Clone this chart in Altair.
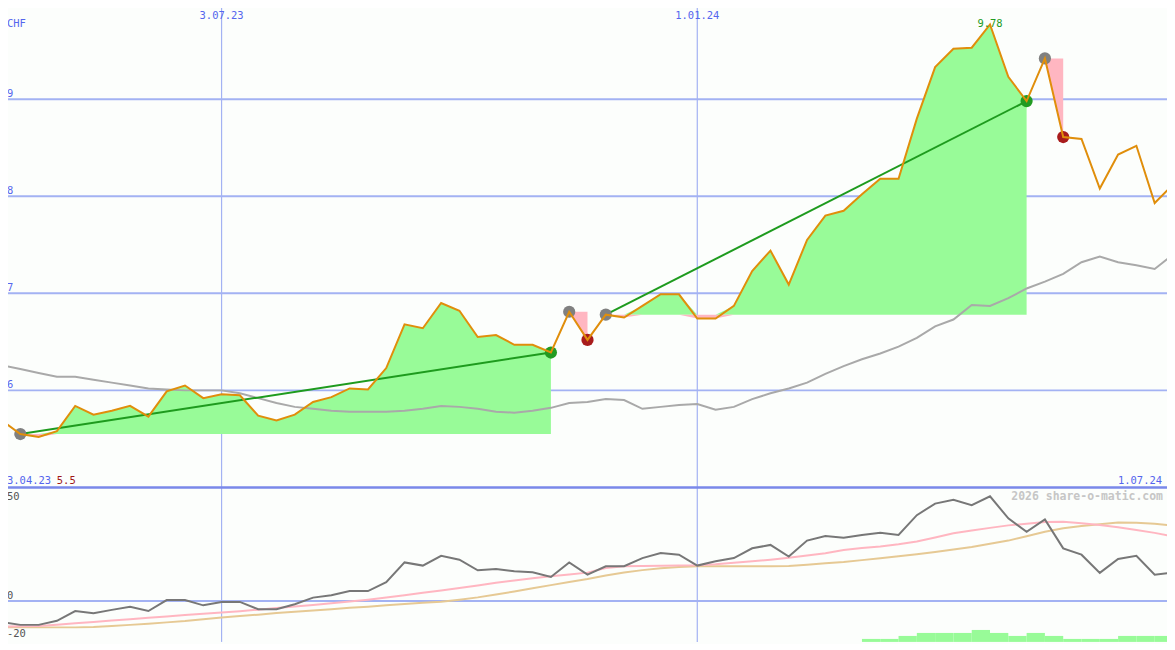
import altair as alt
import pandas as pd

# ---------------- data ----------------
weeks = pd.date_range("2023-04-10", periods=65, freq="7D")
dates = [d.strftime("%Y-%m-%d") for d in weeks]

price = [5.69, 5.55, 5.52, 5.58, 5.84, 5.75, 5.79, 5.84, 5.73, 5.99,
         6.05, 5.92, 5.96, 5.95, 5.74, 5.69, 5.75, 5.88, 5.93, 6.02,
         6.01, 6.23, 6.68, 6.64, 6.90, 6.82, 6.55, 6.57, 6.47, 6.47,
         6.39, 6.81, 6.52, 6.78, 6.75, 6.87, 6.99, 6.99, 6.74, 6.74,
         6.87, 7.23, 7.44, 7.09, 7.55, 7.80, 7.85, 8.02, 8.18, 8.18,
         8.80, 9.33, 9.52, 9.53, 9.77, 9.23, 8.98, 9.42, 8.61, 8.59,
         8.08, 8.43, 8.52, 7.93, 8.12]

ma = [6.26, 6.22, 6.18, 6.14, 6.14, 6.11, 6.08, 6.05, 6.02, 6.01,
      6.00, 6.00, 6.00, 5.97, 5.92, 5.87, 5.83, 5.81, 5.79, 5.78,
      5.78, 5.78, 5.79, 5.81, 5.84, 5.83, 5.81, 5.78, 5.77, 5.79,
      5.82, 5.87, 5.88, 5.91, 5.90, 5.81, 5.83, 5.85, 5.86, 5.80,
      5.83, 5.91, 5.97, 6.02, 6.08, 6.17, 6.25, 6.32, 6.38, 6.45,
      6.54, 6.66, 6.73, 6.88, 6.87, 6.95, 7.05, 7.12, 7.20, 7.32,
      7.38, 7.32, 7.29, 7.25, 7.40]

osc = [-9.2, -10.5, -10.5, -8.7, -4.4, -5.4, -3.9, -2.5, -4.4, 0.4,
       0.4, -1.9, -0.4, -0.4, -3.6, -3.6, -1.4, 1.5, 2.5, 4.4,
       4.4, 8.3, 17.0, 15.6, 19.9, 18.2, 13.5, 14.1, 13.1, 12.7,
       10.6, 17.0, 11.6, 15.3, 15.3, 18.9, 21.1, 20.4, 15.6, 17.5,
       18.9, 23.2, 24.7, 19.6, 26.6, 28.6, 27.9, 29.1, 30.1, 29.1,
       37.8, 42.9, 44.6, 42.2, 46.1, 36.4, 30.5, 35.9, 23.2, 20.4,
       12.4, 18.5, 19.9, 11.6, 12.6]

sig_pink = [-11.2, -11.1, -11.0, -10.4, -9.8, -9.2, -8.6, -8.0, -7.4, -6.8,
            -6.2, -5.6, -5.1, -4.5, -3.8, -3.1, -2.4, -1.7, -1.0, -0.2,
            0.6, 1.5, 2.5, 3.6, 4.6, 5.7, 6.8, 8.0, 9.0, 10.0,
            10.9, 11.7, 12.5, 14.5, 15.3, 15.4, 15.5, 15.6, 15.8, 16.2,
            16.8, 17.5, 18.2, 19.0, 20.0, 21.0, 22.5, 23.3, 24.0, 25.0,
            26.2, 28.0, 29.8, 31.0, 32.2, 33.3, 34.0, 34.8, 34.9, 34.2,
            33.5, 32.5, 31.3, 30.0, 28.4]

sig_tan = [-11.6, -11.6, -11.6, -11.6, -11.6, -11.4, -11.0, -10.5, -10.0, -9.4,
           -8.8, -8.0, -7.3, -6.6, -6.0, -5.3, -4.7, -4.2, -3.6, -3.0,
           -2.5, -1.9, -1.3, -0.8, -0.3, 0.6, 1.6, 2.9, 4.2, 5.6,
           7.0, 8.4, 9.7, 11.2, 12.6, 13.6, 14.4, 15.0, 15.3, 15.3,
           15.3, 15.3, 15.3, 15.4, 16.0, 16.6, 17.2, 18.0, 18.8, 19.7,
           20.6, 21.6, 22.7, 23.8, 25.2, 26.6, 28.5, 30.5, 32.0, 33.0,
           33.8, 34.6, 34.5, 34.0, 33.2]

vol_start = [47, 48, 49, 50, 51, 52, 53, 54, 55, 56, 57, 58, 59, 60, 61, 62, 63]
vol = [1, 1, 2, 3, 3, 3, 4, 3, 2, 3, 2, 1, 1, 1, 2, 2, 2]

buy_idx = [1, 31, 33, 57]
sell_idx = [30, 32, 56, 58]

price_ticks = [6, 7, 8, 9]
osc_ticks = [0]
osc_labels = [50, 0, -20]
date_ticks = ["2023-07-03", "2024-01-01"]
date_labels = ["3.07.23", "1.01.24"]
start_label = "3.04.23"
end_label = "1.07.24"
min_label = "5.5"
max_label = "9.78"
currency = "CHF"
watermark = "2026 share-o-matic.com"

# ---------------- styling ----------------
W, HT, HB = 1175, 487, 155
FONT = "DejaVu Sans Mono"
FS = 10.5
BLUE_TXT = "#5566ee"
GRID = "#a3b2f3"
SEP = "#7a88ea"

xs = alt.Scale(type="utc", domain=[alt.DateTime(year=2023, month=4, date=10, utc=True),
                                    alt.DateTime(year=2024, month=7, date=1, utc=True)])
ys_top = alt.Scale(domain=[5, 10])
ys_bot = alt.Scale(domain=[-18.0, 50])

def X(f):
    return alt.X(f"{f}:T", scale=xs, axis=None)

def YT(f):
    return alt.Y(f"{f}:Q", scale=ys_top, axis=None)

def YB(f):
    return alt.Y(f"{f}:Q", scale=ys_bot, axis=None)

df = pd.DataFrame({"date": dates, "price": price, "ma": ma, "osc": osc,
                   "pink": sig_pink, "tan": sig_tan})

rows = []
for k, (b, s) in enumerate(zip(buy_idx, sell_idx)):
    base = price[b]
    for i in range(b, s + 1):
        p = price[i]
        rows.append({"date": dates[i], "trade": k, "base": base,
                     "up": max(p, base), "dn": min(p, base)})
fill = pd.DataFrame(rows)

tl_rows, dot_rows = [], []
for k, (b, s) in enumerate(zip(buy_idx, sell_idx)):
    win = price[s] > price[b]
    dot_rows.append({"date": dates[b], "p": price[b], "kind": "buy"})
    dot_rows.append({"date": dates[s], "p": price[s], "kind": "win" if win else "loss"})
    if win:
        tl_rows.append({"date": dates[b], "p": price[b], "trade": k})
        tl_rows.append({"date": dates[s], "p": price[s], "trade": k})
tlines = pd.DataFrame(tl_rows)
dots = pd.DataFrame(dot_rows)

# ---------------- top panel ----------------
hgrid = alt.Chart(pd.DataFrame({"v": price_ticks})).mark_rule(
    color=GRID, strokeWidth=2).encode(y=YT("v"))
vgrid = alt.Chart(pd.DataFrame({"d": date_ticks})).mark_rule(
    color=GRID, strokeWidth=1.2).encode(x=X("d"))

ma_line = alt.Chart(df).mark_line(color="#a9a9a9", strokeWidth=2, clip=True).encode(
    x=X("date"), y=YT("ma"))

green_area = alt.Chart(fill).mark_area(color="#98fb98", opacity=1).encode(
    x=X("date"), y=YT("up"), y2="base:Q", detail="trade:N")
pink_area = alt.Chart(fill).mark_area(color="#ffb6c1", opacity=1).encode(
    x=X("date"), y=YT("dn"), y2="base:Q", detail="trade:N")

trade_lines = alt.Chart(tlines).mark_line(color="#1e9b1e", strokeWidth=2).encode(
    x=X("date"), y=YT("p"), detail="trade:N")

dot_layer = alt.Chart(dots).mark_circle(size=150, opacity=1).encode(
    x=X("date"), y=YT("p"),
    color=alt.Color("kind:N", legend=None,
                    scale=alt.Scale(domain=["buy", "win", "loss"],
                                    range=["#808080", "#229b22", "#a81c1c"])))

price_line = alt.Chart(df).mark_line(color="#e08e0b", strokeWidth=2, clip=True).encode(
    x=X("date"), y=YT("price"))

ptick_txt = alt.Chart(pd.DataFrame({"d": [dates[0]] * len(price_ticks), "v": price_ticks,
                                    "t": [str(v) for v in price_ticks]})).mark_text(
    font=FONT, fontSize=FS, color=BLUE_TXT, align="left", baseline="alphabetic",
    dx=5, dy=-2.5).encode(x=X("d"), y=YT("v"), text="t:N")

chf_txt = alt.Chart(pd.DataFrame({"d": [dates[0]], "v": [10], "t": [currency]})).mark_text(
    font=FONT, fontSize=FS, color=BLUE_TXT, align="left", baseline="alphabetic",
    dx=5, dy=25).encode(x=X("d"), y=YT("v"), text="t:N")

date_txt = alt.Chart(pd.DataFrame({"d": date_ticks, "v": [10, 10], "t": date_labels})).mark_text(
    font=FONT, fontSize=FS, color=BLUE_TXT, align="center", baseline="alphabetic",
    dy=16.5).encode(x=X("d"), y=YT("v"), text="t:N")

start_txt = alt.Chart(pd.DataFrame({"d": [dates[0]], "v": [5], "t": [start_label]})).mark_text(
    font=FONT, fontSize=FS, color=BLUE_TXT, align="left", baseline="alphabetic",
    dx=5, dy=-3.7).encode(x=X("d"), y=YT("v"), text="t:N")

min_txt = alt.Chart(pd.DataFrame({"d": [dates[0]], "v": [5], "t": [min_label]})).mark_text(
    font=FONT, fontSize=FS, color="#a01818", align="left", baseline="alphabetic",
    dx=55, dy=-3.7).encode(x=X("d"), y=YT("v"), text="t:N")

end_txt = alt.Chart(pd.DataFrame({"d": [dates[-1]], "v": [5], "t": [end_label]})).mark_text(
    font=FONT, fontSize=FS, color=BLUE_TXT, align="right", baseline="alphabetic",
    dx=-11, dy=-3.7).encode(x=X("d"), y=YT("v"), text="t:N")

imax = price.index(max(price))
max_txt = alt.Chart(pd.DataFrame({"d": [dates[imax]], "v": [price[imax]], "t": [max_label]})).mark_text(
    font=FONT, fontSize=FS, color="#229b22", align="center", baseline="alphabetic",
    dy=2.5).encode(x=X("d"), y=YT("v"), text="t:N")

top = alt.layer(hgrid, vgrid, green_area, pink_area, ma_line, trade_lines,
                dot_layer, price_line, ptick_txt, chf_txt, date_txt,
                start_txt, min_txt, end_txt, max_txt).properties(width=W, height=HT)

# ---------------- bottom panel ----------------
bgrid = alt.Chart(pd.DataFrame({"v": osc_ticks})).mark_rule(
    color=GRID, strokeWidth=2).encode(y=YB("v"))
sep = alt.Chart(pd.DataFrame({"v": [50]})).mark_rule(
    color=SEP, strokeWidth=2.5).encode(y=YB("v"))

vol_df = pd.DataFrame({"d0": [dates[i] for i in vol_start],
                       "d1": [dates[i + 1] for i in vol_start], "vol": vol})
bars = alt.Chart(vol_df).mark_rect(color="#98fb98").encode(
    x=X("d0"), x2="d1:T",
    y=alt.Y("vol:Q", scale=alt.Scale(domain=[0, HB / 3.0]), axis=None),
    y2=alt.datum(0))

tan_line = alt.Chart(df).mark_line(color="#e6c994", strokeWidth=2, clip=True).encode(
    x=X("date"), y=YB("tan"))
pink_line = alt.Chart(df).mark_line(color="#ffb6c1", strokeWidth=2, clip=True).encode(
    x=X("date"), y=YB("pink"))
osc_line = alt.Chart(df).mark_line(color="#777777", strokeWidth=2, clip=True).encode(
    x=X("date"), y=YB("osc"))

lab_df = pd.DataFrame({"d": [dates[0]] * 3, "v": osc_labels,
                       "t": [str(v) for v in osc_labels]})
blab_top = alt.Chart(lab_df.iloc[[0]]).mark_text(
    font=FONT, fontSize=FS, color="#555555", align="left", baseline="alphabetic",
    dx=5, dy=13).encode(x=X("d"), y=YB("v"), text="t:N")
blab_mid = alt.Chart(lab_df.iloc[[1]]).mark_text(
    font=FONT, fontSize=FS, color="#555555", align="left", baseline="alphabetic",
    dx=5, dy=-2.5).encode(x=X("d"), y=YB("v"), text="t:N")
blab_low = alt.Chart(lab_df.iloc[[2]]).mark_text(
    font=FONT, fontSize=FS, color="#555555", align="left", baseline="alphabetic",
    dx=5, dy=-9).encode(x=X("d"), y=YB("v"), text="t:N")

wm = alt.Chart(pd.DataFrame({"d": [dates[-1]], "v": [50], "t": [watermark]})).mark_text(
    font=FONT, fontSize=11.5, fontWeight="bold", color="#c6c6c6", align="right",
    baseline="alphabetic", dx=-10, dy=13).encode(x=X("d"), y=YB("v"), text="t:N")

bottom = alt.layer(bgrid, vgrid, bars, tan_line, pink_line, osc_line, sep,
                   blab_top, blab_mid, blab_low, wm).resolve_scale(y="independent").properties(
    width=W, height=HB)

chart = alt.vconcat(top, bottom, spacing=0, bounds="flush").properties(
    padding={"left": -8, "top": -8, "right": -8, "bottom": 0},
    background="#fcfefc",
).configure_view(strokeWidth=0)

chart.save("out.html", embed_options={"renderer": "svg", "actions": False})
